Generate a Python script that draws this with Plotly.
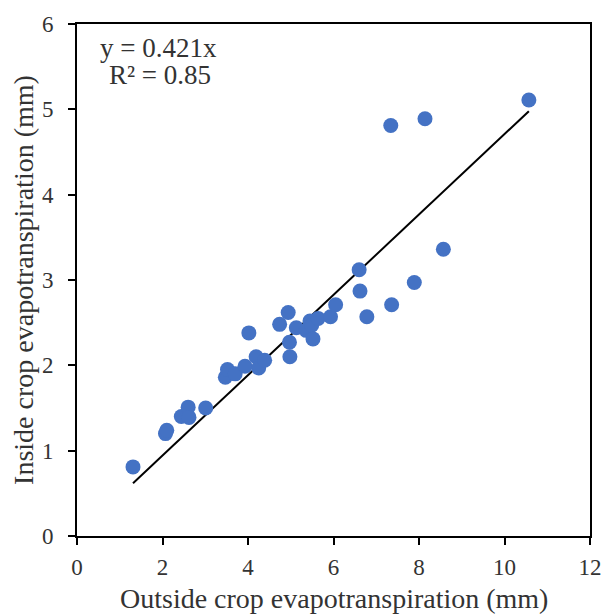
import numpy as np
import plotly.graph_objects as go

outside_et = [1.31, 2.07, 2.10, 2.44, 2.60, 2.62, 3.01, 3.47, 3.52, 3.70, 3.93, 4.02, 4.19, 4.25, 4.39,
              4.74, 4.94, 4.97, 4.98, 5.13, 5.36, 5.45, 5.49, 5.52, 5.64, 5.93, 6.05, 6.60, 6.62,
              6.78, 7.36, 7.34, 8.14, 7.89, 8.57, 10.57]
inside_et = [0.81, 1.20, 1.24, 1.40, 1.51, 1.39, 1.50, 1.86, 1.95, 1.90, 1.99, 2.38, 2.10, 1.97, 2.06,
             2.48, 2.62, 2.27, 2.10, 2.44, 2.41, 2.52, 2.47, 2.31, 2.55, 2.57, 2.71, 3.12, 2.87,
             2.57, 2.71, 4.81, 4.89, 2.97, 3.36, 5.11]

trend_slope_drawn = 0.471  # slope of the drawn trend line
eq_text = "y = 0.421x"
r2_text = "R² = 0.85"
x_title = "Outside crop evapotranspiration (mm)"
y_title = "Inside crop evapotranspiration (mm)"

xs = np.array(outside_et)
line_x = [xs.min(), xs.max()]
line_y = [trend_slope_drawn * v for v in line_x]

serif = "Liberation Serif, Times New Roman, serif"
txt = "#333333"

fig = go.Figure()
fig.add_trace(go.Scatter(x=line_x, y=line_y, mode="lines",
                         line=dict(color="black", width=2), showlegend=False))
fig.add_trace(go.Scatter(x=outside_et, y=inside_et, mode="markers",
                         marker=dict(color="#4472C4", size=15, line=dict(width=0)),
                         showlegend=False))

fig.add_annotation(x=0.04, y=0.953, xref="paper", yref="paper", xanchor="left", yanchor="middle",
                   text=eq_text, showarrow=False, font=dict(family=serif, size=27, color=txt))
fig.add_annotation(x=0.058, y=0.9, xref="paper", yref="paper", xanchor="left", yanchor="middle",
                   text=r2_text, showarrow=False, font=dict(family=serif, size=27, color=txt))
fig.add_annotation(x=0.5, y=-0.122, xref="paper", yref="paper", xanchor="center", yanchor="middle",
                   text=x_title, showarrow=False, font=dict(family=serif, size=28, color=txt))

fig.update_layout(
    width=614, height=614,
    margin=dict(l=77, r=15, t=17, b=78),
    plot_bgcolor="white", paper_bgcolor="white",
    font=dict(family=serif, size=23, color=txt),
    xaxis=dict(range=[0, 12], tickvals=[0, 2, 4, 6, 8, 10, 12], showgrid=False, zeroline=False,
               showline=True, linecolor="black", linewidth=2, mirror=True,
               ticks="outside", ticklen=7, tickwidth=2, tickcolor="black",
               ticklabelstandoff=2),
    yaxis=dict(range=[0, 6], tickvals=[0, 1, 2, 3, 4, 5, 6], showgrid=False, zeroline=False,
               showline=True, linecolor="black", linewidth=2, mirror=True,
               ticks="outside", ticklen=7, tickwidth=2, tickcolor="black",
               ticklabelstandoff=10,
               title=dict(text=y_title, standoff=0,
                          font=dict(family=serif, size=28, color=txt))),
)

fig.write_html("out.html")
